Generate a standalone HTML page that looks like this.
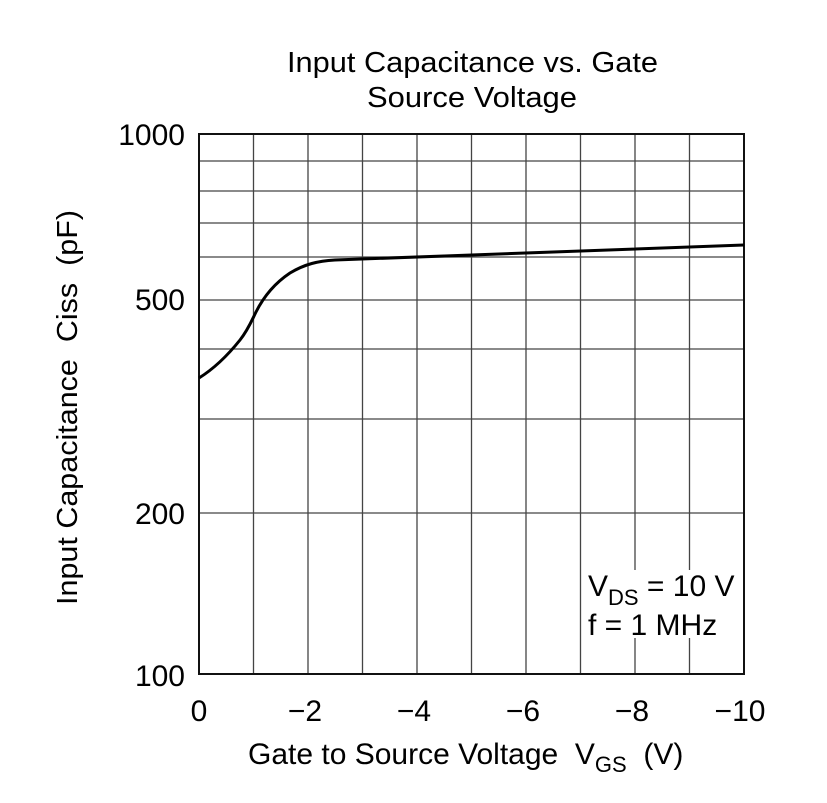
<!DOCTYPE html>
<html><head><style>body{margin:0;background:#fff} text{white-space:pre}</style></head><body>
<svg width="827" height="798" xmlns="http://www.w3.org/2000/svg" font-family="Liberation Sans, sans-serif" xml:space="preserve">
<rect width="827" height="798" fill="#fff"/>
<g stroke="#444" stroke-width="1.3">
<line x1="199" y1="161" x2="744" y2="161"/>
<line x1="199" y1="191" x2="744" y2="191"/>
<line x1="199" y1="223" x2="744" y2="223"/>
<line x1="199" y1="257" x2="744" y2="257"/>
<line x1="199" y1="300" x2="744" y2="300"/>
<line x1="199" y1="349" x2="744" y2="349"/>
<line x1="199" y1="419" x2="744" y2="419"/>
<line x1="199" y1="513" x2="744" y2="513"/>
<line x1="253.5" y1="134" x2="253.5" y2="674"/>
<line x1="308" y1="134" x2="308" y2="674"/>
<line x1="362.5" y1="134" x2="362.5" y2="674"/>
<line x1="417" y1="134" x2="417" y2="674"/>
<line x1="471.5" y1="134" x2="471.5" y2="674"/>
<line x1="526" y1="134" x2="526" y2="674"/>
<line x1="580.5" y1="134" x2="580.5" y2="674"/>
<line x1="635" y1="134" x2="635" y2="674"/>
<line x1="689.5" y1="134" x2="689.5" y2="674"/>
</g>
<rect x="586" y="570" width="156" height="68" fill="#fff"/>
<rect x="199" y="134" width="545" height="540" fill="none" stroke="#111" stroke-width="2"/>
<path d="M199,378 C215,368 228,355 240,340 C248,330 252,320 256,312 C262,300 272,285 290,273 C305,264 318,261 335,260 C400,258 500,254 744,245" fill="none" stroke="#000" stroke-width="3"/>
<g font-size="29" fill="#000">
<text x="287" y="72" textLength="371" lengthAdjust="spacingAndGlyphs">Input Capacitance vs. Gate</text>
<text x="367" y="107" textLength="210" lengthAdjust="spacingAndGlyphs">Source Voltage</text>
<g text-anchor="end" font-size="30">
<text x="185" y="145">1000</text>
<text x="185" y="310">500</text>
<text x="185" y="524">200</text>
<text x="185" y="686">100</text>
</g>
<g text-anchor="middle" font-size="30">
<text x="199" y="721">0</text>
<text x="305" y="721">−2</text>
<text x="414" y="721">−4</text>
<text x="523" y="721">−6</text>
<text x="632" y="721">−8</text>
<text x="740" y="721">−10</text>
</g>
<text x="248" y="764" font-size="30">Gate to Source Voltage  V<tspan font-size="22" dy="8">GS</tspan><tspan dy="-8">  (V)</tspan></text>
<text transform="translate(77,605) rotate(-90)" textLength="395" lengthAdjust="spacingAndGlyphs">Input Capacitance  Ciss  (pF)</text>
<g font-size="30">
<text x="588" y="596">V<tspan font-size="22" dy="9">DS</tspan><tspan dy="-9"> = 10 V</tspan></text>
<text x="588" y="635">f = 1 MHz</text>
</g>
</g>
</svg>
</body></html>
